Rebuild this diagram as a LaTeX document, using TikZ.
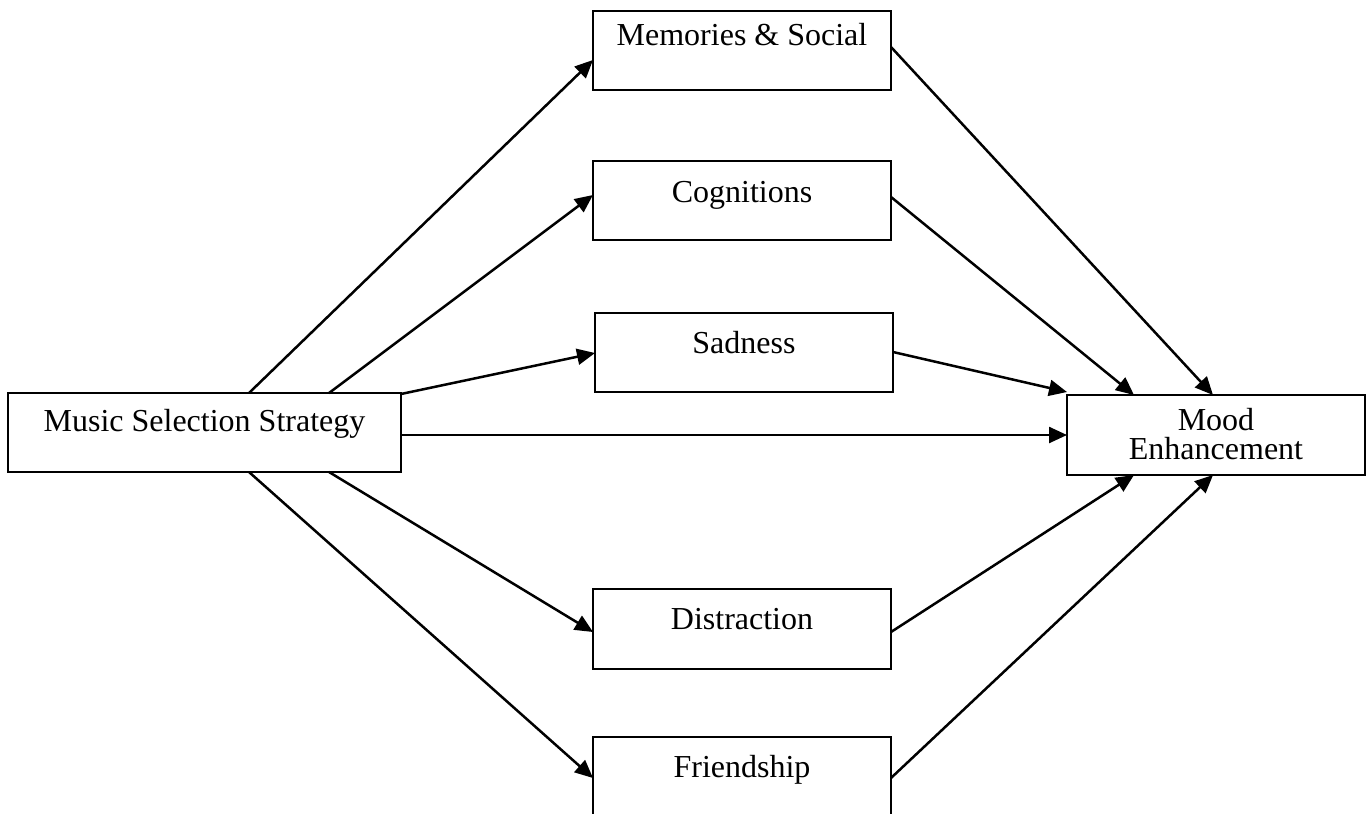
\documentclass[tikz,border=0pt]{standalone}
\usepackage{fontspec}
\setmainfont{Liberation Serif}
\usetikzlibrary{calc,arrows.meta}
\begin{document}
\begin{tikzpicture}[x=0.5pt,y=-0.5pt,
  box/.style={draw,line width=0.6pt,rectangle,inner sep=0pt,outer sep=0pt,anchor=north west,minimum width=149pt,minimum height=39.5pt},
  lbl/.style={anchor=base,font=\fontsize{16}{19}\selectfont,inner sep=0pt},
  conn/.style={line width=1.25pt,-{Triangle[length=9pt,width=8pt]}}]
\clip (0,0) rectangle (1367,814);
\useasboundingbox (0,0) rectangle (1367,814);
% boxes
\node[box,minimum width=196.5pt] (mss) at (8,393) {};
\node[box] (mem) at (593,11) {};
\node[box] (cog) at (593,161) {};
\node[box] (sad) at (595,313) {};
\node[box,minimum height=40pt] (mood) at (1067,395) {};
\node[box,minimum height=40pt] (dis) at (593,589) {};
\node[box,minimum height=60pt] (fri) at (593,737) {};
% labels
\node[lbl] (msst) at ($(mss.north)+(0,38)$) {Music Selection Strategy};
\node[lbl] (memt) at ($(mem.north)+(0,34)$) {Memories \& Social};
\node[lbl] (cogt) at ($(cog.north)+(0,41)$) {Cognitions};
\node[lbl] (sadt) at ($(sad.north)+(0,40)$) {Sadness};
\node[lbl] (moodt1) at ($(mood.north)+(0,35)$) {Mood};
\node[lbl] (moodt2) at ($(mood.north)+(0,64)$) {Enhancement};
\node[lbl] (dist) at ($(dis.north)+(0,40)$) {Distraction};
\node[lbl] (frit) at ($(fri.north)+(0,40)$) {Friendship};
% connectors from Music Selection Strategy
\draw[conn] ($(mss.north west)+(241,0)$) -- ($(mem.north west)+(0,49)$);
\draw[conn] ($(mss.north west)+(321,0)$) -- ($(cog.north west)+(0,34)$);
\draw[conn] ($(mss.north east)+(0,1)$) -- ($(sad.north west)+(0,40)$);
\draw[conn] (mood.west -| mss.east) -- (mood.west);
\draw[conn] ($(mss.south west)+(241,0)$) -- ($(fri.north west)+(0,41)$);
\draw[conn] ($(mss.south west)+(321,0)$) -- ($(dis.north west)+(0,43)$);
% connectors into Mood Enhancement
\draw[conn] ($(mem.north east)+(0,36)$) -- ($(mood.north west)+(146,0)$);
\draw[conn] ($(cog.north east)+(0,36)$) -- ($(mood.north west)+(67,0)$);
\draw[conn] ($(sad.north east)+(0,39)$) -- ($(mood.north west)+(0,-3)$);
\draw[conn] ($(dis.north east)+(0,43)$) -- ($(mood.south west)+(67,0)$);
\draw[conn] ($(fri.north east)+(0,41)$) -- ($(mood.south west)+(146,0)$);
\end{tikzpicture}
\end{document}
